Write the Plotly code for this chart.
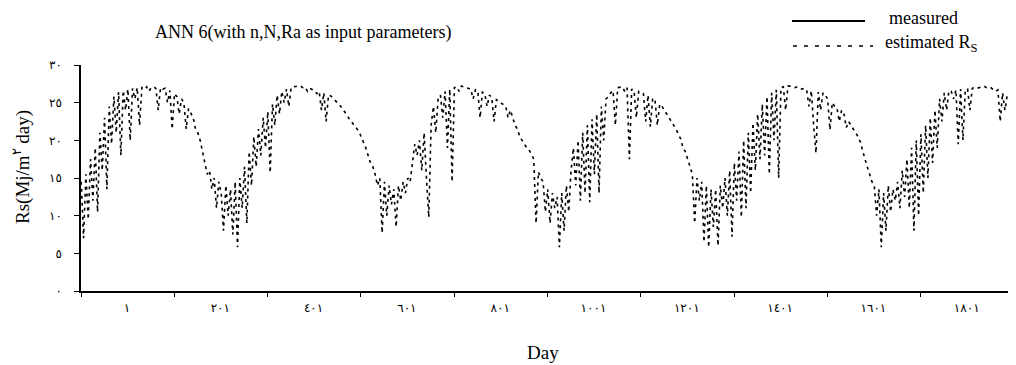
import plotly.graph_objects as go

# Day index of each plotted estimate (every 5th day)
days = list(range(1, 2000, 5))

# Estimated Rs (MJ/m2 day)
estimated_rs = [
    14.5, 7.0, 15.5, 9.5, 17.5, 12.0, 19.0, 10.5, 21.0, 16.0, 23.0, 13.5, 24.5, 19.5, 25.8, 21.0, 26.4, 18.0, 26.6, 24.0,
    26.8, 20.0, 26.9, 25.5, 27.0, 22.0, 27.0, 26.8, 27.1, 26.5, 27.0, 27.1, 26.9, 24.0, 27.0, 26.8, 26.9, 25.0, 26.6, 21.5,
    26.2, 25.8, 23.5, 25.5, 25.0, 21.5, 24.2, 23.5, 23.0, 21.5, 21.0, 20.0, 18.5, 17.0, 15.5, 16.0, 13.5, 15.0, 11.0, 14.5,
    13.0, 8.0, 14.0, 10.0, 13.5, 7.5, 14.5, 5.8, 15.0, 11.0, 16.5, 9.0, 18.5, 14.0, 20.5, 16.5, 21.5, 18.0, 23.0, 19.0,
    23.8, 15.7, 24.8, 22.0, 26.0, 23.5, 26.5, 25.0, 26.8, 24.5, 27.0, 27.1, 27.2, 27.2, 27.2, 27.0, 27.1, 26.5, 26.9, 26.7,
    26.6, 26.2, 26.5, 24.0, 26.3, 22.5, 26.0, 25.9, 25.6, 25.3, 25.0, 24.6, 24.2, 23.8, 23.3, 22.8, 22.4, 22.0, 21.5, 21.2,
    20.5, 19.8, 19.0, 18.0, 17.0, 16.5, 15.5, 14.0, 15.0, 7.7, 14.5, 10.0, 14.0, 11.5, 13.5, 8.5, 14.0, 12.0, 14.5, 13.0,
    15.0, 14.5, 17.0, 19.5, 18.0, 20.0, 16.0, 21.0, 15.0, 9.8, 22.0, 24.5, 21.0, 25.5, 26.0, 23.0, 26.5, 19.0, 26.8, 14.5,
    27.0, 27.1, 26.5, 27.2, 27.1, 27.0, 26.9, 26.8, 25.5, 26.7, 26.6, 23.0, 26.4, 26.2, 24.5, 26.0, 25.7, 22.5, 25.4, 25.2,
    25.0, 24.8, 24.5, 23.0, 24.0, 23.0, 22.0, 21.5, 20.5, 20.0, 19.5, 19.0, 18.7, 18.2, 17.5, 9.0, 15.8, 15.0, 14.5, 10.5,
    13.5, 9.0, 13.0, 11.0, 12.5, 5.8, 13.0, 8.0, 14.0, 10.5, 16.0, 19.0, 14.0, 20.0, 12.0, 21.0, 13.0, 22.0, 11.8, 22.8,
    15.5, 23.5, 13.0, 24.5, 20.0, 25.5, 25.8, 26.3, 26.6, 22.0, 27.0, 27.1, 27.1, 26.5, 27.0, 17.5, 26.8, 26.6, 23.0, 26.5,
    26.4, 26.2, 22.5, 26.0, 21.8, 25.6, 25.3, 22.0, 24.8, 24.5, 24.0, 23.5, 23.0, 22.5, 22.0, 21.5, 20.8, 20.2, 19.0, 18.5,
    17.5, 16.5, 15.5, 9.0, 15.0, 12.0, 14.5, 6.5, 14.0, 5.8, 13.5, 8.5, 13.5, 6.0, 14.0, 11.0, 15.0, 10.0, 16.0, 7.2,
    17.0, 12.0, 18.5, 9.8, 20.0, 11.0, 21.0, 13.0, 22.3, 16.0, 23.5, 17.5, 24.8, 18.0, 25.8, 15.5, 26.3, 20.0, 26.7, 15.0,
    27.0, 27.1, 24.0, 27.2, 27.2, 27.1, 27.0, 27.1, 27.0, 26.8, 26.9, 26.7, 24.5, 26.6, 22.0, 18.3, 26.4, 24.0, 26.3, 26.0,
    25.5, 21.4, 25.0, 24.5, 24.3, 22.5, 24.0, 23.5, 21.7, 22.5, 22.0, 21.5, 21.0, 20.5, 19.8, 18.5, 17.5, 16.5, 15.5, 14.5,
    14.0, 10.0, 13.5, 5.8, 13.0, 8.0, 14.0, 10.5, 13.5, 12.0, 14.5, 11.0, 16.0, 12.5, 17.5, 11.0, 19.0, 8.0, 20.0, 10.0,
    20.8, 13.0, 22.0, 15.0, 23.0, 17.0, 24.0, 19.0, 25.5, 22.5, 26.3, 24.0, 26.6, 26.5, 25.5, 26.7, 19.5, 26.8, 20.0, 26.7,
    26.8, 24.0, 26.9, 27.0, 26.9, 27.0, 27.1, 27.2, 27.0, 26.9, 27.0, 26.8, 26.5, 26.7, 22.5, 26.3, 24.0, 26.0, 25.8, 25.4,
]

# Axis ticks
x_tick_bounds = [0.5, 200.5, 400.5, 600.5, 800.5, 1000.5, 1200.5, 1400.5, 1600.5, 1800.5, 2000.5]
x_tick_labels = ["١", "٢٠١", "٤٠١", "٦٠١", "٨٠١", "١٠٠١", "١٢٠١", "١٤٠١", "١٦٠١", "١٨٠١", " "]
y_tick_vals = [0, 5, 10, 15, 20, 25, 30]
y_tick_labels = ["٠", "٥", "١٠", "١٥", "٢٠", "٢٥", "٣٠"]

SERIF = "Liberation Serif, Times New Roman, serif"
ARAB = "DejaVu Sans, Noto Sans, sans-serif"

# Page has an 8px body margin: size the figure so that the plot area lands
# where it is in the 1016x365 reference.
OFF = 8
W, H = 1016 - OFF, 365 - OFF
L, T = 81 - OFF, 65 - OFF
PW, PH = 933, 226
R = W - L - PW
B = H - T - PH


def px_x(p):
    return (p - OFF - L) / PW


def px_y(p):
    return (T + PH - (p - OFF)) / PH


fig = go.Figure()
fig.add_trace(go.Scatter(
    x=days, y=estimated_rs, mode="lines", name="estimated Rs",
    line=dict(color="black", width=1.6, dash="3px,4px"), showlegend=False,
))

fig.update_layout(
    width=W, height=H,
    margin=dict(l=L, r=R, t=T, b=B, autoexpand=False),
    paper_bgcolor="white", plot_bgcolor="white",
    showlegend=False,
    xaxis=dict(
        range=[0.5, 2000.5], tickmode="array", tickvals=x_tick_bounds, ticktext=x_tick_labels,
        ticks="outside", ticklen=4, tickwidth=1, tickcolor="black",
        ticklabelshift=46, ticklabelstandoff=1,
        showline=True, linecolor="black", linewidth=2, showgrid=False, zeroline=False,
        tickfont=dict(family=ARAB, size=12, color="black"), automargin=False,
    ),
    xaxis2=dict(
        range=[0.5, 2000.5], overlaying="x", anchor="y", tickmode="array", tickvals=x_tick_bounds,
        ticks="inside", ticklen=4, tickwidth=1, tickcolor="black", showticklabels=False,
        showline=False, showgrid=False, zeroline=False,
    ),
    yaxis=dict(
        range=[0, 30], tickmode="array", tickvals=y_tick_vals, ticktext=y_tick_labels,
        ticks="outside", ticklen=5, tickwidth=1, tickcolor="black", ticklabelstandoff=10,
        showline=True, linecolor="black", linewidth=1.5, showgrid=False, zeroline=False,
        tickfont=dict(family=ARAB, size=12, color="black"), automargin=False,
    ),
    yaxis2=dict(
        range=[0, 30], overlaying="y", anchor="x", tickmode="array", tickvals=y_tick_vals[:-1],
        ticks="inside", ticklen=5, tickwidth=1, tickcolor="black", showticklabels=False,
        showline=False, showgrid=False, zeroline=False,
    ),
)

annotations = [
    dict(text="ANN 6(with n,N,Ra as input parameters)", x=px_x(153), y=px_y(32),
         xanchor="left", yanchor="middle", font=dict(family=SERIF, size=18, color="black")),
    dict(text="Rs(Mj/m<sup>٢</sup> day)", x=px_x(21), y=px_y(167), textangle=-90,
         xanchor="center", yanchor="middle", font=dict(family=SERIF, size=19, color="black")),
    dict(text="Day", x=px_x(543), y=px_y(352), xanchor="center", yanchor="middle",
         font=dict(family=SERIF, size=19, color="black")),
    dict(text="measured", x=px_x(887), y=px_y(18), xanchor="left", yanchor="middle",
         font=dict(family=SERIF, size=18, color="black")),
    dict(text="estimated R<sub>S</sub>", x=px_x(883), y=px_y(44), xanchor="left", yanchor="middle",
         font=dict(family=SERIF, size=18, color="black")),
]
for a in annotations:
    a.update(xref="paper", yref="paper", showarrow=False)
fig.update_layout(annotations=annotations)

fig.add_shape(type="line", xref="paper", yref="paper", x0=px_x(792), x1=px_x(865),
              y0=px_y(21), y1=px_y(21), line=dict(color="black", width=2))
fig.add_shape(type="line", xref="paper", yref="paper", x0=px_x(793), x1=px_x(873),
              y0=px_y(46), y1=px_y(46), line=dict(color="black", width=1.5, dash="4px,7px"))

fig.write_html("out.html")
